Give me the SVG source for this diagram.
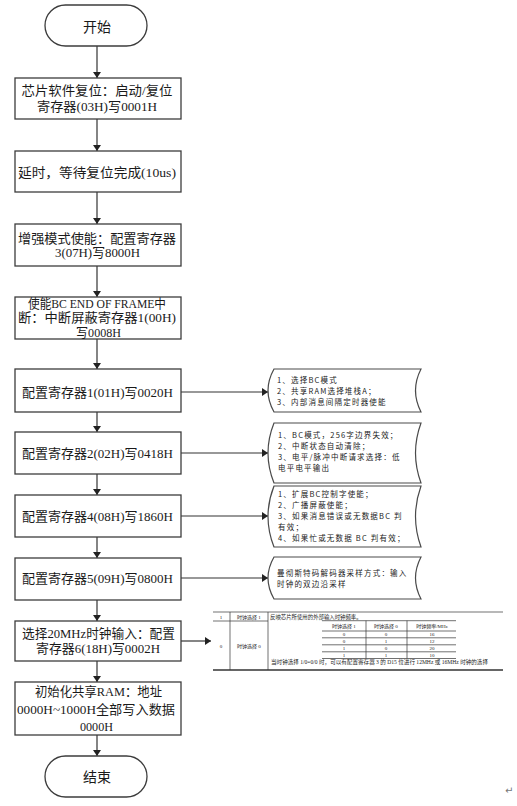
<svg xmlns="http://www.w3.org/2000/svg" width="517" height="806" viewBox="0 0 517 806">
<style>
.bg{fill:#fff}
.box{fill:#fff;stroke:#3c3c3c;stroke-width:1.3}
.term{fill:#fff;stroke:#3c3c3c;stroke-width:1.3}
.t{font-family:"Liberation Serif","Noto Sans CJK SC",serif;font-size:13px;fill:#1a1a1a;text-anchor:middle}
.tt{font-family:"Noto Sans CJK SC",sans-serif;font-size:14px;fill:#1a1a1a;text-anchor:middle}
.ln{stroke:#333;stroke-width:1.2;fill:none}
.co{fill:#fff;stroke:#4a4a4a;stroke-width:1.2}
.c{font-family:"Noto Sans CJK SC",sans-serif;font-size:7.5px;letter-spacing:1.2px;fill:#222}
.tb{font-family:"Liberation Serif","Noto Sans CJK SC",serif;font-size:5.4px;fill:#222}
.tm{font-family:"Liberation Serif","Noto Sans CJK SC",serif;font-size:5px;fill:#222;text-anchor:middle}
.tl{stroke:#333;stroke-width:0.7;fill:none}
</style>
<defs>
<marker id="ah" viewBox="0 0 6 8" refX="6" refY="4" markerWidth="6" markerHeight="8" markerUnits="userSpaceOnUse" orient="auto">
<path d="M0,0 L6,4 L0,8 Z" fill="#222"/>
</marker>
</defs>
<rect class="bg" x="0" y="0" width="517" height="806"/>

<g id="connectors">
<path class="ln" d="M97,46 V78" marker-end="url(#ah)"/>
<path class="ln" d="M97,119 V151" marker-end="url(#ah)"/>
<path class="ln" d="M97,192 V224" marker-end="url(#ah)"/>
<path class="ln" d="M97,266 V297" marker-end="url(#ah)"/>
<path class="ln" d="M97,339 V369" marker-end="url(#ah)"/>
<path class="ln" d="M97,412 V432" marker-end="url(#ah)"/>
<path class="ln" d="M97,474 V495" marker-end="url(#ah)"/>
<path class="ln" d="M97,537 V558" marker-end="url(#ah)"/>
<path class="ln" d="M97,600 V621" marker-end="url(#ah)"/>
<path class="ln" d="M97,661 V682" marker-end="url(#ah)"/>
<path class="ln" d="M97,735 V756" marker-end="url(#ah)"/>
<path class="ln" d="M181,392 H268" marker-end="url(#ah)"/>
<path class="ln" d="M181,453 H268" marker-end="url(#ah)"/>
<path class="ln" d="M181,516 H268" marker-end="url(#ah)"/>
<path class="ln" d="M181,578 H268" marker-end="url(#ah)"/>
<path class="ln" d="M181,641 H211" marker-end="url(#ah)"/>
</g>

<g id="start">
<rect class="term" x="45" y="5" width="102" height="41" rx="20.5"/>
<text class="tt" x="97" y="32">开始</text>
</g>

<g id="step1">
<rect class="box" x="15" y="78" width="166" height="41"/>
<text class="t" x="97" y="95" textLength="151" lengthAdjust="spacingAndGlyphs">芯片软件复位：启动/复位</text>
<text class="t" x="97" y="111" textLength="120" lengthAdjust="spacingAndGlyphs">寄存器(03H)写0001H</text>
</g>

<g id="step2">
<rect class="box" x="15" y="151" width="166" height="41"/>
<text class="t" x="97" y="176.5" textLength="158" lengthAdjust="spacingAndGlyphs">延时，等待复位完成(10us)</text>
</g>

<g id="step3">
<rect class="box" x="15" y="224" width="166" height="42"/>
<text class="t" x="97" y="242.5" textLength="158" lengthAdjust="spacingAndGlyphs">增强模式使能：配置寄存器</text>
<text class="t" x="97.5" y="256.5" textLength="85" lengthAdjust="spacingAndGlyphs">3(07H)写8000H</text>
</g>

<g id="step4">
<rect class="box" x="15" y="297" width="166" height="42"/>
<text class="t" x="97" y="307.5" textLength="138" lengthAdjust="spacingAndGlyphs">使能BC END OF FRAME中</text>
<text class="t" x="97" y="321.5" textLength="158" lengthAdjust="spacingAndGlyphs">断：中断屏蔽寄存器1(00H)</text>
<text class="t" x="98.5" y="337" textLength="45" lengthAdjust="spacingAndGlyphs">写0008H</text>
</g>

<g id="step5">
<rect class="box" x="15" y="369" width="166" height="43"/>
<text class="t" x="97.5" y="396.5" textLength="151" lengthAdjust="spacingAndGlyphs">配置寄存器1(01H)写0020H</text>
</g>

<g id="step6">
<rect class="box" x="15" y="432" width="166" height="42"/>
<text class="t" x="97.5" y="457.5" textLength="151" lengthAdjust="spacingAndGlyphs">配置寄存器2(02H)写0418H</text>
</g>

<g id="step7">
<rect class="box" x="15" y="495" width="166" height="42"/>
<text class="t" x="97.5" y="520.5" textLength="151" lengthAdjust="spacingAndGlyphs">配置寄存器4(08H)写1860H</text>
</g>

<g id="step8">
<rect class="box" x="15" y="558" width="166" height="42"/>
<text class="t" x="97.5" y="582.5" textLength="151" lengthAdjust="spacingAndGlyphs">配置寄存器5(09H)写0800H</text>
</g>

<g id="step9">
<rect class="box" x="15" y="621" width="166" height="40"/>
<text class="t" x="98.5" y="637.5" textLength="153" lengthAdjust="spacingAndGlyphs">选择20MHz时钟输入：配置</text>
<text class="t" x="98" y="652.5" textLength="124" lengthAdjust="spacingAndGlyphs">寄存器6(18H)写0002H</text>
</g>

<g id="step10">
<rect class="box" x="15" y="682" width="166" height="53"/>
<text class="t" x="98.5" y="695.5" textLength="127" lengthAdjust="spacingAndGlyphs">初始化共享RAM：地址</text>
<text class="t" x="96" y="713.5" textLength="158" lengthAdjust="spacingAndGlyphs">0000H~1000H全部写入数据</text>
<text class="t" x="96.5" y="730.5" textLength="33" lengthAdjust="spacingAndGlyphs">0000H</text>
</g>

<g id="end">
<rect class="term" x="45" y="756" width="102" height="41" rx="20.5"/>
<text class="tt" x="97" y="782">结束</text>
</g>

<g id="note1">
<path class="co" d="M274,369 H421 Q410,390.5 421,412 H274 Q262,390.5 274,369 Z"/>
<text class="c" x="277" y="383">1、选择BC模式</text>
<text class="c" x="277" y="394">2、共享RAM选择堆栈A；</text>
<text class="c" x="277" y="405">3、内部消息间隔定时器使能</text>
</g>

<g id="note2">
<path class="co" d="M274,423 H421 Q410,453 421,483 H274 Q262,453 274,423 Z"/>
<text class="c" x="278" y="438">1、BC模式，256字边界失效；</text>
<text class="c" x="278" y="449">2、中断状态自动清除；</text>
<text class="c" x="278" y="460">3、电平/脉冲中断请求选择：低</text>
<text class="c" x="278" y="471">电平电平输出</text>
</g>

<g id="note3">
<path class="co" d="M274,486 H421 Q410,516.5 421,547 H274 Q262,516.5 274,486 Z"/>
<text class="c" x="278" y="497">1、扩展BC控制字使能；</text>
<text class="c" x="278" y="508">2、广播屏蔽使能；</text>
<text class="c" x="278" y="519">3、如果消息错误或无数据BC 判</text>
<text class="c" x="278" y="530">有效；</text>
<text class="c" x="278" y="541">4、如果忙或无数据 BC 判有效；</text>
</g>

<g id="note4">
<path class="co" d="M274,557 H421 Q410,578 421,599 H274 Q262,578 274,557 Z"/>
<text class="c" x="277" y="576">曼彻斯特码解码器采样方式：输入</text>
<text class="c" x="277" y="587">时钟的双边沿采样</text>
</g>

<g id="table">
<line class="tl" x1="213" y1="612" x2="503" y2="612"/>
<line x1="213" y1="670" x2="503" y2="670" stroke="#333" stroke-width="1.4"/>
<line class="tl" x1="213" y1="621" x2="268" y2="621"/>
<line class="tl" x1="230" y1="612" x2="230" y2="670"/>
<line class="tl" x1="268" y1="612" x2="268" y2="670"/>
<text class="tm" x="221" y="619">1</text>
<text class="tm" x="249" y="619">时钟选择 1</text>
<text class="tb" x="270" y="619">反映芯片所使用的外部输入时钟频率。</text>
<text class="tm" x="221" y="648">0</text>
<text class="tm" x="249" y="648">时钟选择 0</text>
<line class="tl" x1="322" y1="620.7" x2="456" y2="620.7"/>
<line class="tl" x1="322" y1="631" x2="456" y2="631"/>
<line class="tl" x1="322" y1="637.8" x2="456" y2="637.8"/>
<line class="tl" x1="322" y1="644.8" x2="456" y2="644.8"/>
<line class="tl" x1="322" y1="651.8" x2="456" y2="651.8"/>
<line class="tl" x1="322" y1="658.5" x2="456" y2="658.5"/>
<line class="tl" x1="366" y1="620.7" x2="366" y2="658.5"/>
<line class="tl" x1="407" y1="620.7" x2="407" y2="658.5"/>
<text class="tm" x="344" y="627.8">时钟选择 1</text>
<text class="tm" x="386" y="627.8">时钟选择 0</text>
<text class="tm" x="432" y="627.8">时钟频率/MHz</text>
<text class="tm" x="344" y="636.3">0</text><text class="tm" x="386" y="636.3">0</text><text class="tm" x="432" y="636.3">16</text>
<text class="tm" x="344" y="643.3">0</text><text class="tm" x="386" y="643.3">1</text><text class="tm" x="432" y="643.3">12</text>
<text class="tm" x="344" y="650.3">1</text><text class="tm" x="386" y="650.3">0</text><text class="tm" x="432" y="650.3">20</text>
<text class="tm" x="344" y="657.2">1</text><text class="tm" x="386" y="657.2">1</text><text class="tm" x="432" y="657.2">10</text>
<text class="tb" x="271" y="664" textLength="217" lengthAdjust="spacingAndGlyphs">当时钟选择 1/0=0/0 时，可以有配置寄存器 3 的 D15 位进行 12MHz 或 16MHz 时钟的选择</text>
</g>

<text x="505" y="794" font-family="DejaVu Sans, sans-serif" font-size="10" fill="#777">↵</text>
</svg>
